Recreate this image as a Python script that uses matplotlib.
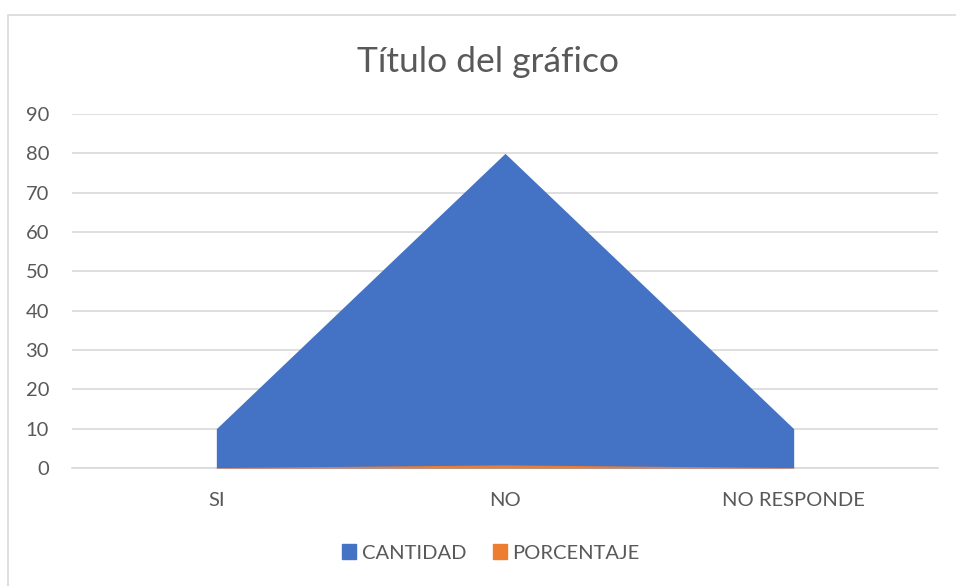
import numpy as np
import matplotlib
matplotlib.use("Agg")
import matplotlib.pyplot as plt
from matplotlib.patches import Patch, Rectangle

plt.rcParams['font.family'] = ['Lato', 'DejaVu Sans']

categorias = ['SI', 'NO', 'NO RESPONDE']
cantidad = [10, 80, 10]
porcentaje = [0.1, 0.8, 0.1]
yticks = [0, 10, 20, 30, 40, 50, 60, 70, 80, 90]

azul = '#4472C4'
naranja = '#ED7D31'
gris_txt = '#595959'
gris_grid = '#D9D9D9'

W, H = 956, 586
fig = plt.figure(figsize=(W / 100, H / 100), dpi=100)

# borde del grafico (recortado a la derecha y abajo)
fig.patches.append(Rectangle((7.5 / W, -0.1), 1.2, (586 - 15) / H + 0.1,
                             transform=fig.transFigure, fill=False,
                             edgecolor='#D9D9D9', linewidth=1.2))

ax = fig.add_axes([72 / W, (H - 468) / H, (938 - 72) / W, (468 - 114) / H])

x = np.arange(len(categorias))
ax.fill_between(x, 0, cantidad, color=azul, linewidth=0, zorder=3)
ax.fill_between(x, 0, porcentaje, color=naranja, linewidth=0, zorder=4)

ax.set_xlim(-0.5, len(categorias) - 0.5)
ax.set_ylim(0, 90)
ax.set_yticks(yticks)
ax.set_xticks(x)
ax.set_xticklabels(categorias)
ax.yaxis.grid(True, color=gris_grid, linewidth=1.2, zorder=0)
ax.set_axisbelow(True)
for s in ['top', 'right', 'left']:
    ax.spines[s].set_visible(False)
ax.spines['bottom'].set_color(gris_grid)
ax.spines['bottom'].set_linewidth(1.2)
ax.spines['bottom'].set_zorder(2)
ax.tick_params(axis='both', length=0, colors=gris_txt, labelsize=14.5)
ax.tick_params(axis='x', pad=17)
ax.tick_params(axis='y', pad=16.5)

fig.text(488 / W, 1 - 72 / H, 'Título del gráfico', ha='center', va='baseline',
         fontsize=25.5, color=gris_txt)

handles = [Patch(color=azul, label='CANTIDAD'), Patch(color=naranja, label='PORCENTAJE')]
fig.legend(handles=handles, loc='center', bbox_to_anchor=(491 / W, 1 - 553 / H),
           ncol=2, frameon=False, fontsize=14.5, labelcolor=gris_txt,
           handlelength=0.7, handleheight=0.7, handletextpad=0.25, columnspacing=1.35,
           borderpad=0, borderaxespad=0)

fig.savefig('out.png', dpi=100)
